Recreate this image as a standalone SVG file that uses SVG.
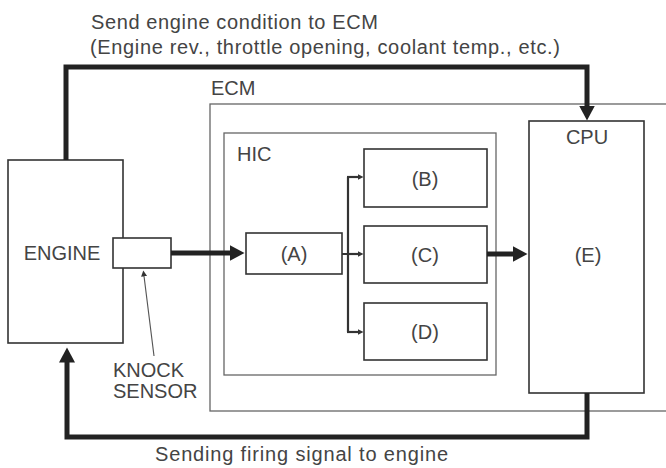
<svg xmlns="http://www.w3.org/2000/svg" width="666" height="468" viewBox="0 0 666 468">
<style>
text{font-family:"Liberation Sans",Arial,sans-serif;fill:#444;font-size:20px}
.c{text-anchor:middle}
.box{fill:#fff;stroke:#333;stroke-width:1.6}
.frame{fill:none;stroke:#666;stroke-width:1.3}
.thick{fill:none;stroke:#222;stroke-width:5}
.thin{fill:none;stroke:#333;stroke-width:2.2}
.ptr{fill:none;stroke:#555;stroke-width:1.1}
</style>
<defs>
<marker id="big" markerUnits="userSpaceOnUse" markerWidth="16" markerHeight="16" refX="0.5" refY="8" orient="auto">
<path d="M0,0 L15,8 L0,16 z" fill="#222"/>
</marker>
<marker id="small" markerUnits="userSpaceOnUse" markerWidth="7" markerHeight="7" refX="0.5" refY="3" orient="auto">
<path d="M0,0 L6,3 L0,6 z" fill="#333"/>
</marker>
</defs>
<rect width="666" height="468" fill="#fff"/>
<g id="labels">
<text x="91" y="29" font-size="21" textLength="287" lengthAdjust="spacing">Send engine condition to ECM</text>
<text x="90" y="54" font-size="21" textLength="470" lengthAdjust="spacing">(Engine rev., throttle opening, coolant temp., etc.)</text>
<text x="155" y="461" font-size="21" textLength="293" lengthAdjust="spacing">Sending firing signal to engine</text>
</g>
<g id="ecm">
<rect class="frame" x="210" y="104" width="470" height="307"/>
<text x="211" y="95">ECM</text>
</g>
<g id="hic">
<rect class="frame" x="224" y="133" width="272" height="242"/>
<text x="237" y="161">HIC</text>
</g>
<g id="engine">
<rect class="box" x="8" y="160" width="115" height="183"/>
<text class="c" x="62" y="260">ENGINE</text>
</g>
<g id="knock-sensor">
<rect class="box" x="113" y="238" width="58" height="30"/>
<text x="113" y="377">KNOCK</text>
<text x="113" y="398">SENSOR</text>
</g>
<g id="a">
<rect class="box" x="246" y="233" width="96" height="41"/>
<text class="c" x="294" y="261">(A)</text>
</g>
<g id="b">
<rect class="box" x="364" y="149" width="123" height="58"/>
<text class="c" x="425" y="186">(B)</text>
</g>
<g id="c">
<rect class="box" x="364" y="226" width="123" height="57"/>
<text class="c" x="425" y="262">(C)</text>
</g>
<g id="d">
<rect class="box" x="364" y="303" width="123" height="57"/>
<text class="c" x="425" y="339">(D)</text>
</g>
<g id="cpu">
<rect class="box" x="529" y="121" width="115" height="272"/>
<text class="c" x="587" y="144">CPU</text>
<text class="c" x="588" y="262">(E)</text>
</g>
<g id="connectors">
<path class="thick" d="M66,160 V67 H587 V106" marker-end="url(#big)"/>
<path class="thick" d="M587,393 V437 H67 V362" marker-end="url(#big)"/>
<path class="thick" d="M171,253 H230" marker-end="url(#big)"/>
<path class="thick" d="M487,254 H513" marker-end="url(#big)"/>
<path class="thin" d="M342,254 H348 M348,177 V332"/>
<path class="thin" d="M347,177 H358" marker-end="url(#small)"/>
<path class="thin" d="M347,254 H358" marker-end="url(#small)"/>
<path class="thin" d="M347,332 H358" marker-end="url(#small)"/>
<path class="ptr" d="M154,356 L144,276" marker-end="url(#small)"/>
</g>
</svg>
